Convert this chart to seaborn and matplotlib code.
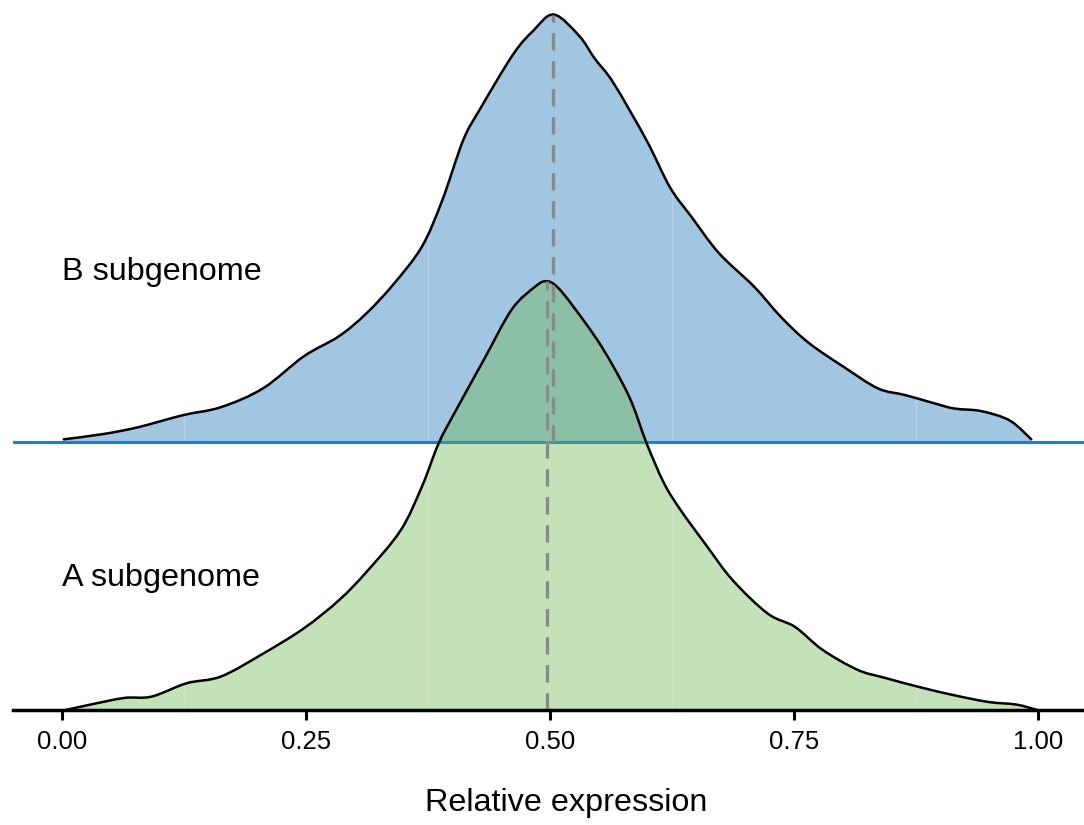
import numpy as np
import matplotlib
matplotlib.use("Agg")
import matplotlib.pyplot as plt
from matplotlib.path import Path
from matplotlib.patches import PathPatch
import seaborn as sns

# Density estimates of relative expression for each subgenome
b_x = [0.002, 0.043, 0.078, 0.124, 0.163, 0.206, 0.248, 0.284, 0.312, 0.340,
       0.369, 0.390, 0.411, 0.428, 0.462, 0.483, 0.504, 0.530, 0.546,
       0.565, 0.599, 0.623, 0.645, 0.673, 0.709, 0.737, 0.765, 0.801, 0.836,
       0.864, 0.893, 0.914, 0.942, 0.971, 0.993]
b_density = [0.02, 0.06, 0.11, 0.20, 0.26, 0.40, 0.64, 0.79, 0.96, 1.18,
             1.46, 1.81, 2.25, 2.48, 2.89, 3.07, 3.19, 3.03, 2.86,
             2.68, 2.25, 1.90, 1.68, 1.41, 1.16, 0.93, 0.74, 0.56, 0.40,
             0.35, 0.29, 0.25, 0.23, 0.16, 0.02]

a_x = [0.004, 0.029, 0.064, 0.092, 0.128, 0.163, 0.206, 0.248, 0.284, 0.312,
       0.347, 0.369, 0.386, 0.404, 0.432, 0.461, 0.485, 0.496, 0.507, 0.524,
       0.553, 0.581, 0.599, 0.617, 0.634, 0.659, 0.687, 0.723, 0.751, 0.779,
       0.815, 0.843, 0.879, 0.914, 0.949, 0.978, 0.999]
a_density = [0.00, 0.04, 0.09, 0.10, 0.20, 0.25, 0.42, 0.61, 0.82, 1.03,
             1.34, 1.67, 1.99, 2.24, 2.61, 2.99, 3.16, 3.20, 3.16, 3.01,
             2.71, 2.34, 1.99, 1.69, 1.49, 1.24, 0.97, 0.72, 0.62, 0.45,
             0.30, 0.24, 0.17, 0.11, 0.06, 0.04, 0.00]

a_median = 0.4966
b_median = 0.5035

groups = ["A subgenome", "B subgenome"]
label_height = [0.493, 1.634]
seam_x = [0.125, 0.375, 0.625, 0.875]
x_ticks = [0.00, 0.25, 0.50, 0.75, 1.00]
x_ticklabels = ["0.00", "0.25", "0.50", "0.75", "1.00"]
x_title = "Relative expression"

sns.set_theme(style="white")
plt.rcParams["font.family"] = ["Liberation Sans", "DejaVu Sans"]
plt.rcParams["text.color"] = "black"
plt.rcParams["axes.labelcolor"] = "black"
plt.rcParams["xtick.color"] = "black"

SCALE = 0.5  # ridge height per unit of density

fig = plt.figure(figsize=(10.84, 8.25), dpi=100)
ax = fig.add_axes([13 / 1084, 115 / 825, 1071 / 1084, 710 / 825])

blue_fill = (0.631, 0.776, 0.886)
green_fill = (0.42, 0.72, 0.31)


def smooth_segments(pts):
    """Cubic Bezier segments (Catmull-Rom style) through the given points."""
    verts, codes = [], []
    n = len(pts)
    for i in range(n - 1):
        p0 = pts[max(i - 1, 0)]
        p1 = pts[i]
        p2 = pts[i + 1]
        p3 = pts[min(i + 2, n - 1)]
        c1 = p1 + (p2 - p0) / 6.0
        c2 = p2 - (p3 - p1) / 6.0
        verts += [c1, c2, p2]
        codes += [Path.CURVE4] * 3
    return verts, codes


def ridge(xs, dens, row, fill, alpha, z):
    pts = np.column_stack([np.asarray(xs, float),
                           row + SCALE * np.asarray(dens, float)])
    seg_v, seg_c = smooth_segments(pts)

    # filled area down to the baseline
    fill_v = [(pts[0, 0], row), pts[0]] + seg_v + [(pts[-1, 0], row), (pts[0, 0], row)]
    fill_c = [Path.MOVETO, Path.LINETO] + seg_c + [Path.LINETO, Path.CLOSEPOLY]
    area = PathPatch(Path(fill_v, fill_c), facecolor=fill, alpha=alpha,
                     lw=0, zorder=z)
    ax.add_patch(area)

    # faint seams inside the filled area
    for sx in seam_x:
        ln, = ax.plot([sx, sx], [row, row + 3], color=(1.0, 0.86, 0.92),
                      lw=1.0, alpha=0.35, zorder=z + 0.1)
        ln.set_clip_path(area)

    # outline
    out_v = [pts[0]] + seg_v
    out_c = [Path.MOVETO] + seg_c
    ax.add_patch(PathPatch(Path(out_v, out_c), fill=False, edgecolor="black",
                           lw=1.8, zorder=z + 1, capstyle="round",
                           joinstyle="round"))


# B subgenome ridge (upper row)
ridge(b_x, b_density, 1, blue_fill, 1.0, 1)
ax.axhline(1, color="#2a7bbd", lw=2.2, zorder=1.5)

# A subgenome ridge (lower row), translucent over the B ridge
ridge(a_x, a_density, 0, green_fill, 0.4, 4)

# Median lines
for med, xs, dens, row in [(a_median, a_x, a_density, 0),
                           (b_median, b_x, b_density, 1)]:
    top = row + SCALE * np.interp(med, xs, dens)
    ax.plot([med, med], [row, top], color="#8a8a8a", lw=2.4,
            dashes=(5.2, 3.2), zorder=6)

for name, h in zip(groups, label_height):
    ax.text(0.0, h, name, fontsize=23.3, ha="left", va="center", color="black")

ax.set_xlim(-0.05, 1.047)
ax.set_ylim(0, 710 / 268)
ax.set_xticks(x_ticks)
ax.set_xticklabels(x_ticklabels)
ax.set_yticks([])
sns.despine(ax=ax, left=True)
ax.spines["bottom"].set_linewidth(2.5)
ax.spines["bottom"].set_color("black")
ax.spines["bottom"].set_zorder(7)
ax.tick_params(axis="x", direction="out", length=7.5, width=2.2,
               color="black", labelcolor="black", labelsize=18.5, pad=7,
               bottom=True)
ax.patch.set_alpha(0)

fig.text(566 / 1084, 1 - 803 / 825, x_title, fontsize=23.3,
         ha="center", va="center", color="black")

fig.savefig("out.png", dpi=100)
